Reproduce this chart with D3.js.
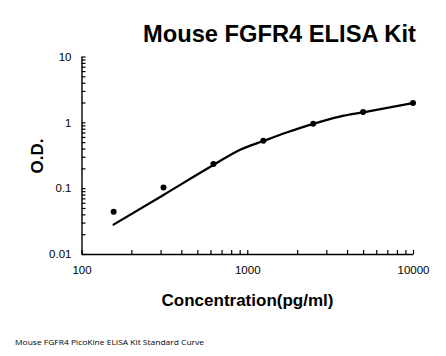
<!DOCTYPE html>
<html>
<head>
<meta charset="utf-8">
<script src="https://cdn.jsdelivr.net/npm/d3@7"></script>
<style>
  html, body { margin: 0; padding: 0; background: #fff; }
  svg { display: block; }
</style>
</head>
<body>
<svg id="chart" width="446" height="356"></svg>
<script>
// ---- data ----
const concentrations = [156.25, 312.5, 625, 1250, 2500, 5000, 10000];
const odValues = [0.044, 0.102, 0.233, 0.527, 0.955, 1.44, 1.97];
// fitted standard curve
const curveConc = [156.25, 312.5, 625, 900, 1250, 1726, 2500, 3614, 5000, 10000];
const curveOD = [0.028, 0.079, 0.225, 0.38, 0.52, 0.70, 0.95, 1.22, 1.42, 1.97];
const xMajorTicks = [100, 1000, 10000];
const yMajorTicks = [0.01, 0.1, 1, 10];
const titleText = "Mouse FGFR4 ELISA Kit";
const xLabel = "Concentration(pg/ml)";
const yLabel = "O.D.";
const footerText = "Mouse FGFR4 PicoKine ELISA Kit Standard Curve";

// ---- layout ----
const plotLeft = 81.5, plotRight = 413, plotTop = 56.5, plotBottom = 254;
const svg = d3.select("#chart");

const x = d3.scaleLog().domain([100, 10000]).range([plotLeft, plotRight]);
const y = d3.scaleLog().domain([0.01, 10]).range([plotBottom, plotTop]);

function logTicks(lo, hi) {
  const out = [];
  for (let e = Math.round(Math.log10(lo)); e < Math.round(Math.log10(hi)); e++) {
    for (let m = 1; m <= 9; m++) out.push(m * Math.pow(10, e));
  }
  out.push(hi);
  return out;
}
const fmt = d => {
  if (d >= 1) return String(Math.round(d));
  return String(+d.toPrecision(1));
};
const isMajorX = d => xMajorTicks.some(v => Math.abs(v - d) / v < 1e-9);
const isMajorY = d => yMajorTicks.some(v => Math.abs(v - d) / v < 1e-9);

// x axis
const xAxis = d3.axisBottom(x)
  .tickValues(logTicks(100, 10000))
  .tickSizeInner(-4).tickSizeOuter(0)
  .tickPadding(12)
  .tickFormat(d => isMajorX(d) ? fmt(d) : "");
const gx = svg.append("g").attr("transform", `translate(0,${plotBottom})`).call(xAxis);
gx.select(".domain").attr("stroke", "#000").attr("stroke-width", 1.4);
gx.selectAll(".tick line").attr("stroke", "#000").attr("stroke-width", 1.2);
gx.selectAll(".tick text")
  .attr("font-family", "Liberation Sans, Arial, sans-serif")
  .attr("font-size", 11.5).attr("fill", "#000");

// y axis
const yAxis = d3.axisLeft(y)
  .tickValues(logTicks(0.01, 10))
  .tickSizeInner(-4).tickSizeOuter(0)
  .tickPadding(10)
  .tickFormat(d => isMajorY(d) ? fmt(d) : "");
const gy = svg.append("g").attr("transform", `translate(${plotLeft},0)`).call(yAxis);
gy.select(".domain").attr("stroke", "#000").attr("stroke-width", 1.4);
gy.selectAll(".tick line").attr("stroke", "#000").attr("stroke-width", 1.2);
gy.selectAll(".tick text")
  .attr("font-family", "Liberation Sans, Arial, sans-serif")
  .attr("font-size", 11.5).attr("fill", "#000");

// curve
const line = d3.line()
  .x((d, i) => x(curveConc[i]))
  .y((d, i) => y(curveOD[i]))
  .curve(d3.curveMonotoneX);
svg.append("path")
  .datum(curveConc)
  .attr("d", line)
  .attr("fill", "none")
  .attr("stroke", "#000")
  .attr("stroke-width", 2.3)
  .attr("stroke-linecap", "round");

// points
svg.append("g").selectAll("circle")
  .data(concentrations)
  .join("circle")
  .attr("cx", d => x(d))
  .attr("cy", (d, i) => y(odValues[i]))
  .attr("r", 3)
  .attr("fill", "#000");

// title
svg.append("text")
  .attr("x", 143).attr("y", 42)
  .attr("font-family", "Liberation Sans, Arial, sans-serif")
  .attr("font-weight", "bold").attr("font-size", 23.7)
  .attr("fill", "#000")
  .text(titleText);

// x label
svg.append("text")
  .attr("x", 247.5).attr("y", 306)
  .attr("text-anchor", "middle")
  .attr("font-family", "Liberation Sans, Arial, sans-serif")
  .attr("font-weight", "bold").attr("font-size", 17)
  .attr("fill", "#000")
  .text(xLabel);

// y label
svg.append("text")
  .attr("transform", "translate(43,156) rotate(-90)")
  .attr("text-anchor", "middle")
  .attr("font-family", "Liberation Sans, Arial, sans-serif")
  .attr("font-weight", "bold").attr("font-size", 17)
  .attr("fill", "#000")
  .text(yLabel);

// footer
svg.append("text")
  .attr("x", 15).attr("y", 344.5)
  .attr("font-family", "Open Sans, sans-serif")
  .attr("font-size", 8)
  .attr("textLength", 189).attr("lengthAdjust", "spacingAndGlyphs")
  .attr("fill", "#000")
  .text(footerText);
</script>
</body>
</html>
